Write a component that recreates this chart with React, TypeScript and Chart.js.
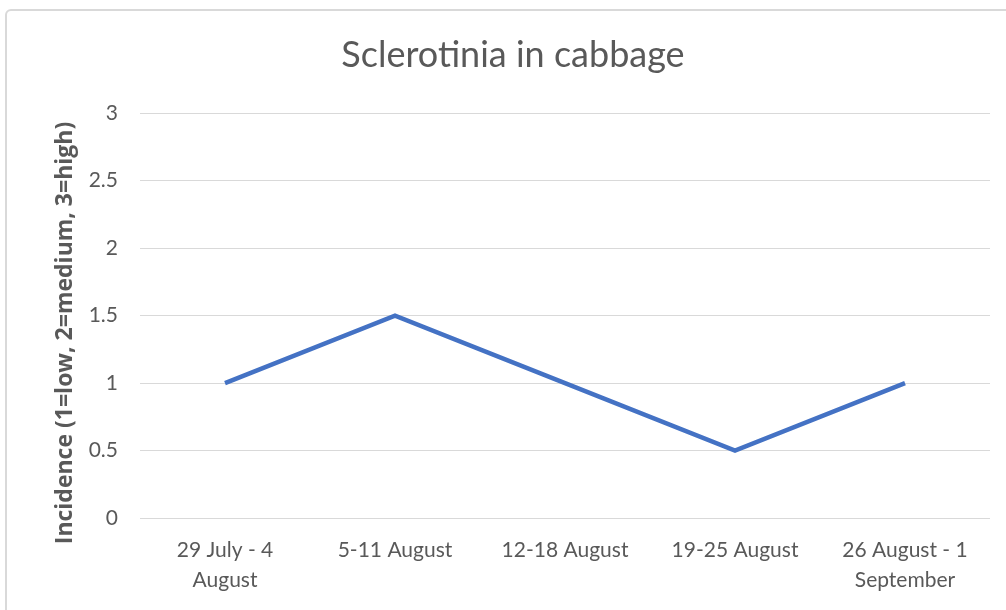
import React, { useEffect, useRef } from "react";
import { Chart, registerables } from "chart.js";

Chart.register(...registerables);

const categories: (string | string[])[] = [
  ["29 July - 4", "August"],
  "5-11 August",
  "12-18 August",
  "19-25 August",
  ["26 August - 1", "September"],
];
const incidence = [1, 1.5, 1, 0.5, 1];
const chartTitle = "Sclerotinia in cabbage";
const yTitle = "Incidence (1=low, 2=medium, 3=high)";

const FONT = "Lato, 'Open Sans', sans-serif";
const TEXT = "#595959";

const yTitlePlugin = {
  id: "yTitleCustom",
  afterDraw(chart: any) {
    const ctx = chart.ctx;
    ctx.save();
    ctx.translate(65, 333);
    ctx.rotate(-Math.PI / 2);
    ctx.textAlign = "center";
    ctx.textBaseline = "middle";
    ctx.fillStyle = TEXT;
    ctx.font = "bold 23px 'Open Sans', sans-serif";
    ctx.fillText(yTitle, 0, 0);
    ctx.restore();
  },
};

export default function App() {
  const ref = useRef<HTMLCanvasElement | null>(null);
  useEffect(() => {
    document.body.style.margin = "0";
    const ctx = ref.current!;
    const chart = new Chart(ctx, {
      type: "line",
      data: {
        labels: categories,
        datasets: [
          {
            data: incidence,
            borderColor: "#4472C4",
            backgroundColor: "#4472C4",
            borderWidth: 4.5,
            pointRadius: 0,
            tension: 0,
          },
        ],
      },
      plugins: [yTitlePlugin],
      options: {
        animation: false,
        responsive: false,
        maintainAspectRatio: false,
        layout: { padding: { left: 36, right: 16, top: 0, bottom: 0 } },
        plugins: {
          legend: { display: false },
          tooltip: { enabled: false },
          title: {
            display: true,
            text: chartTitle,
            color: TEXT,
            font: { family: FONT, size: 36, weight: "normal", lineHeight: 1.2 },
            padding: { top: 34, bottom: 36 },
          },
        },
        scales: {
          x: {
            offset: true,
            grid: { display: false, drawTicks: false, offset: true },
            border: { display: false },
            ticks: {
              color: TEXT,
              font: { family: FONT, size: 21, lineHeight: 1.45 },
              padding: 17,
              maxRotation: 0,
              autoSkip: false,
            },
            afterFit: (s: any) => {
              s.height = 92;
            },
          },
          y: {
            min: 0,
            max: 3,
            ticks: {
              stepSize: 0.5,
              color: TEXT,
              font: { family: FONT, size: 21 },
              padding: 22,
              callback: (v: any) => String(Number(v)),
            },
            grid: { color: "#d9d9d9", lineWidth: 1, drawTicks: false },
            border: { display: false },
            afterFit: (s: any) => {
              s.width = 104;
            },
          },
        },
      },
    });
    return () => chart.destroy();
  }, []);
  return (
    <div style={{ position: "relative", width: 1006, height: 610, overflow: "hidden", background: "#fff" }}>
      <div
        style={{
          position: "absolute",
          left: 5,
          top: 9,
          width: 1020,
          height: 620,
          border: "2px solid #d9d9d9",
          borderRadius: 6,
          boxSizing: "border-box",
        }}
      />
      <canvas ref={ref} width={1006} height={610} style={{ position: "absolute", left: 0, top: 0 }} />
    </div>
  );
}
